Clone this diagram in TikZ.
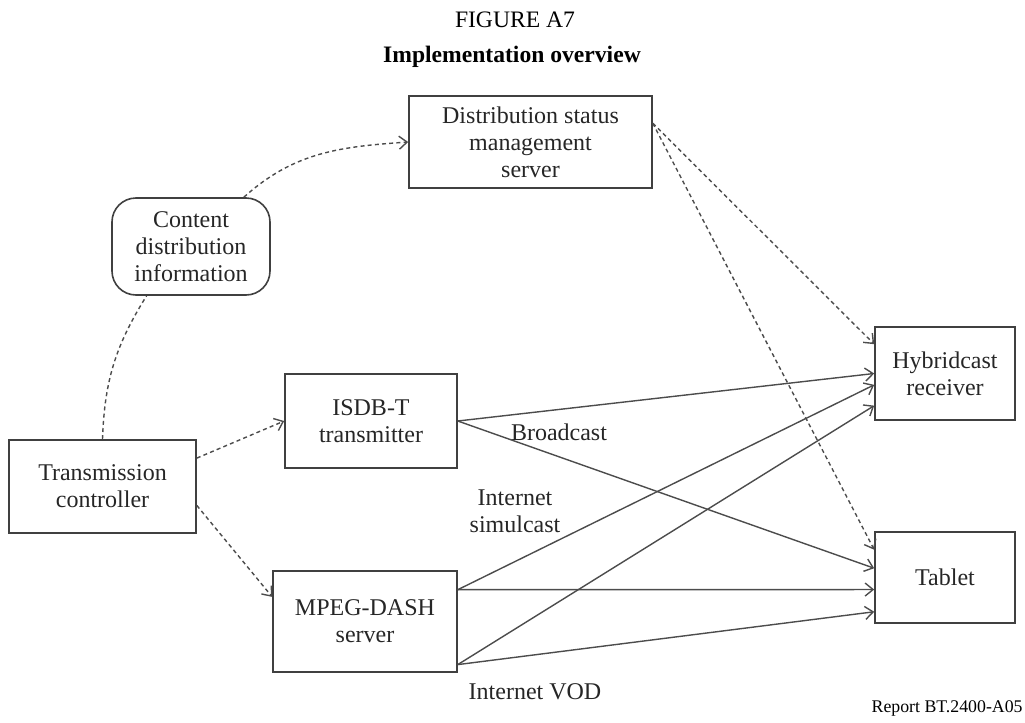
\documentclass[tikz,border=0pt]{standalone}
\usepackage{fontspec}
\setmainfont{Liberation Serif}
\usetikzlibrary{arrows.meta,calc}

\tikzset{
  box/.style={draw=black!75, line width=0.8pt, rectangle, align=center,
              inner sep=2pt, text=black!85,
              font=\fontsize{12}{13.5}\selectfont},
  infobox/.style={box, rounded corners=12pt},
  lbl/.style={text=black!85, font=\fontsize{12}{13.5}\selectfont, align=center, inner sep=0pt},
  heading/.style={text=black, font=\fontsize{11.8}{13.5}\selectfont, inner sep=0pt, anchor=base},
  link/.style={draw=black!70, line width=0.7pt,
               -{Straight Barb[length=4pt,width=6.5pt,line width=0.7pt]}},
  ctrl link/.style={link, dash pattern=on 2pt off 1.6pt},
}

\begin{document}
\begin{tikzpicture}[x=0.5pt,y=-0.5pt]
  \useasboundingbox (0,0) rectangle (1025,723);

  % heading
  \node[heading] (fig) at (515,27) {FIGURE A7};
  \node[heading, font=\fontsize{11.8}{13.5}\selectfont\bfseries] (ttl) at (512,62)
       {Implementation overview};

  % blocks
  \node[box, minimum width=121.5pt, minimum height=46pt] (srv) at (530.5,142)
       {Distribution status\\management\\server};
  \node[infobox, minimum width=79pt, minimum height=48.5pt] (cdi) at (191,246.5)
       {Content\\distribution\\information};
  \node[box, minimum width=93.5pt, minimum height=46.5pt] (ctl) at (102.5,486.5)
       {Transmission\\controller};
  \node[box, minimum width=86pt, minimum height=47pt] (isdb) at (371,421)
       {ISDB-T\\transmitter};
  \node[box, minimum width=92pt, minimum height=50.5pt] (dash) at (365,621.5)
       {MPEG-DASH\\server};
  \node[box, minimum width=70pt, minimum height=46.5pt] (hyb) at (945,373.5)
       {Hybridcast\\receiver};
  \node[box, minimum width=70pt, minimum height=45.5pt] (tab) at (945,577.5)
       {Tablet};

  % control paths (dashed)
  \draw[draw=black!70, line width=0.7pt, dash pattern=on 2pt off 1.6pt]
       (ctl.north) to[out=88,in=238] (cdi.228);
  \draw[ctrl link] (cdi.43) to[out=42,in=184] (srv.west);
  \draw[ctrl link] ($(ctl.north east)!0.2!(ctl.south east)$) -- (isdb.west);
  \draw[ctrl link] ($(ctl.north east)!0.7!(ctl.south east)$)
       -- ($(dash.north west)!0.26!(dash.south west)$);
  \draw[ctrl link] ($(srv.north east)!0.3!(srv.south east)$)
       -- ($(hyb.north west)!0.19!(hyb.south west)$);
  \draw[ctrl link] ($(srv.north east)!0.3!(srv.south east)$)
       -- ($(tab.north west)!0.2!(tab.south west)$);

  % delivery paths
  \draw[link] (isdb.east) -- (hyb.west);
  \draw[link] (isdb.east) -- ($(tab.north west)!0.4!(tab.south west)$);
  \draw[link] ($(dash.north east)!0.19!(dash.south east)$)
       -- ($(hyb.north west)!0.62!(hyb.south west)$);
  \draw[link] ($(dash.north east)!0.19!(dash.south east)$)
       -- ($(tab.north west)!0.63!(tab.south west)$);
  \draw[link] ($(dash.north east)!0.92!(dash.south east)$)
       -- ($(hyb.north west)!0.84!(hyb.south west)$);
  \draw[link] ($(dash.north east)!0.92!(dash.south east)$)
       -- ($(tab.north west)!0.87!(tab.south west)$);

  % path labels
  \node[lbl] (bc) at (559,432) {Broadcast};
  \node[lbl] (sim) at (515,511) {Internet\\simulcast};
  \node[lbl] (vod) at (535,692) {Internet VOD};

  % report reference
  \node[heading, font=\fontsize{8.9}{10}\selectfont, anchor=base east] (rep) at (1023,712)
       {Report BT.2400-A05};
\end{tikzpicture}
\end{document}
